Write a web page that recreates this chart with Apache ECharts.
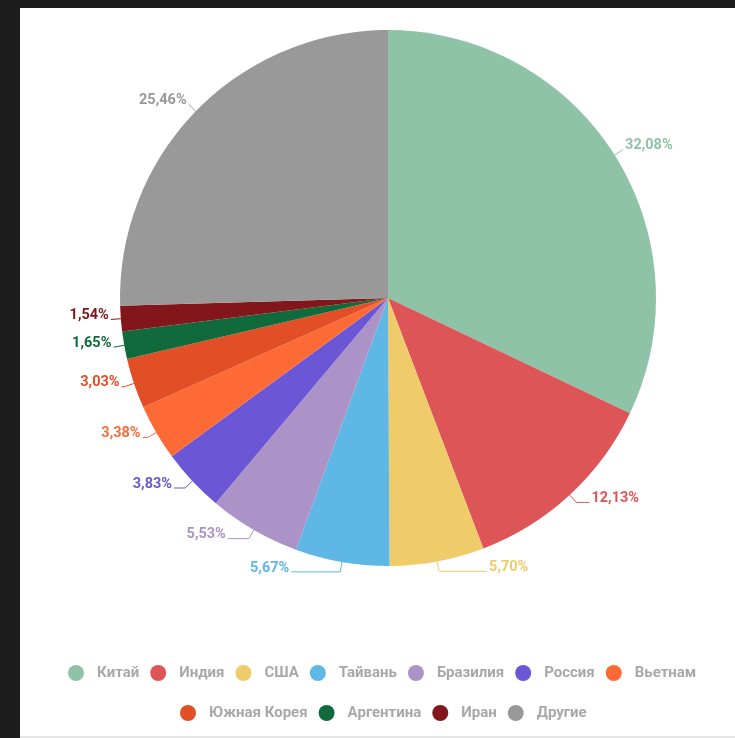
<!DOCTYPE html>
<html>
<head>
<meta charset="utf-8">
<script src="https://cdn.jsdelivr.net/npm/echarts@6/dist/echarts.min.js"></script>
<style>
  html, body { margin: 0; padding: 0; width: 735px; height: 738px; background: #1c1c1c; overflow: hidden; }
  #card { position: absolute; left: 20px; top: 8px; width: 715px; height: 728px; background: #ffffff; border-bottom: 2px solid #e6e6e6; }
  #chart { position: absolute; left: 0; top: 0; width: 735px; height: 738px; }
</style>
</head>
<body>
<div id="card"></div>
<div id="chart"></div>
<script>
const categories = ['Китай', 'Индия', 'США', 'Тайвань', 'Бразилия', 'Россия', 'Вьетнам', 'Южная Корея', 'Аргентина', 'Иран', 'Другие'];
const values = [32.08, 12.13, 5.70, 5.67, 5.53, 3.83, 3.38, 3.03, 1.65, 1.54, 25.46];
const colors = ['#8fc3a7', '#de5558', '#f0cb69', '#5fb7e5', '#ab92c7', '#6b56d6', '#fe6a35', '#e24e26', '#116a3c', '#83161a', '#999999'];
// horizontal part of each label connector
const connectorTail = [0, 13, 48, 49, 21, 11, 5, 3, 1, 0, 0];

const chart = echarts.init(document.getElementById('chart'), null, { renderer: 'canvas' });
const legendText = { color: '#a8a8a8', fontSize: 15, fontFamily: 'Roboto', fontWeight: 'bold', padding: [0, 0, 0, 8] };
chart.setOption({
  backgroundColor: 'transparent',
  color: colors,
  animation: false,
  legend: [
    {
      data: categories.slice(0, 7),
      top: 660, left: 63,
      icon: 'circle', itemWidth: 16, itemHeight: 16, itemGap: 11,
      textStyle: legendText
    },
    {
      data: categories.slice(7),
      top: 700, left: 175,
      icon: 'circle', itemWidth: 16, itemHeight: 16, itemGap: 11,
      textStyle: legendText
    }
  ],
  series: [{
    type: 'pie',
    center: [388, 298],
    radius: [0, 268],
    startAngle: 90,
    clockwise: true,
    avoidLabelOverlap: false,
    data: categories.map((c, i) => ({
      name: c,
      value: values[i],
      labelLine: { length: 10, length2: connectorTail[i] }
    })),
    itemStyle: { borderWidth: 0 },
    label: {
      show: true,
      position: 'outside',
      distanceToLabelLine: 2,
      formatter: p => '{v|' + p.value.toFixed(2).replace('.', ',') + '%}',
      rich: {
        v: {
          fontFamily: 'Roboto',
          fontSize: 14.5,
          fontWeight: 'bold',
          color: 'inherit',
          padding: [0, 0, 8, 0]
        }
      }
    },
    labelLine: { show: true, lineStyle: { width: 1 } },
    emphasis: { disabled: true }
  }]
});
</script>
</body>
</html>
